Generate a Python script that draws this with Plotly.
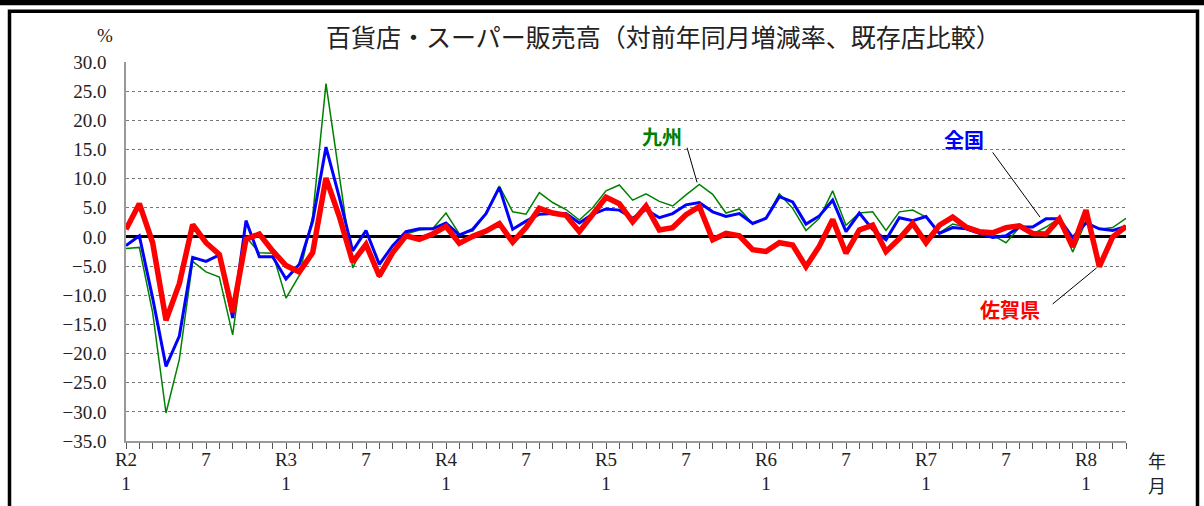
import plotly.graph_objects as go

# months from R2.1 (Jan 2020) to R8.4
months = list(range(76))
tick_pos = [0, 6, 12, 18, 24, 30, 36, 42, 48, 54, 60, 66, 72]
tick_text = ["R2<br>1", "7", "R3<br>1", "7", "R4<br>1", "7", "R5<br>1", "7",
             "R6<br>1", "7", "R7<br>1", "7", "R8<br>1"]

saga = [1.3, 5.7, -1.0, -14.3, -8.0, 2.1, -1.0, -3.0, -12.9, -0.4, 0.5, -2.4,
        -4.9, -6.0, -2.7, 10.1, 3.5, -4.3, -1.3, -6.7, -2.7, 0.2, -0.4, 0.5,
        1.8, -1.1, 0.1, 1.0, 2.3, -0.9, 1.6, 4.9, 4.1, 3.7, 0.9, 4.0,
        6.8, 5.7, 2.6, 5.3, 1.2, 1.6, 3.8, 5.2, -0.5, 0.6, 0.2, -2.2,
        -2.5, -1.0, -1.4, -5.1, -1.6, 3.0, -2.8, 1.2, 2.0, -2.5, -0.3, 2.3,
        -1.0, 2.0, 3.4, 1.7, 0.9, 0.7, 1.6, 1.9, 0.6, 0.5, 3.1, -1.7,
        4.6, -5.1, 0.0, 1.8]

zenkoku = [-1.5, 0.2, -10.5, -22.2, -17.0, -3.5, -4.2, -3.1, -13.9, 2.8, -3.4, -3.4,
           -7.2, -4.7, 2.7, 15.4, 6.8, -2.4, 1.1, -4.7, -1.5, 0.9, 1.4, 1.4,
           2.4, 0.3, 1.3, 4.0, 8.5, 1.3, 2.7, 3.9, 4.0, 4.0, 2.4, 3.9,
           4.8, 4.6, 3.2, 4.7, 3.3, 4.0, 5.5, 5.9, 4.3, 3.5, 4.0, 2.3,
           3.2, 6.9, 6.0, 2.2, 3.6, 6.3, 0.9, 4.1, 1.3, -0.5, 3.3, 2.8,
           3.5, 0.6, 1.6, 1.4, 0.6, -0.1, 0.2, 1.7, 1.7, 3.1, 3.1, -0.1,
           2.4, 1.4, 1.1, 1.8]

kyushu = [-2.0, -1.8, -13.0, -30.2, -21.0, -4.2, -6.0, -6.9, -16.8, 0.0, -2.7, -2.8,
          -10.5, -6.6, 3.6, 26.3, 10.5, -5.3, -0.7, -7.0, -2.4, 0.5, 1.2, 1.4,
          4.1, 0.5, 1.0, 4.0, 8.7, 4.3, 3.9, 7.6, 5.9, 4.7, 2.9, 5.0,
          7.9, 8.9, 6.3, 7.4, 6.1, 5.3, 7.2, 9.0, 7.3, 4.1, 4.8, 2.3,
          3.2, 7.4, 4.9, 1.1, 3.2, 7.9, 2.0, 4.1, 4.3, 1.1, 4.3, 4.6,
          3.4, 0.7, 2.2, 1.7, 0.9, 0.3, -1.0, 1.6, 0.5, 1.7, 3.2, -2.6,
          2.7, 1.3, 1.6, 3.2]

y_ticks = [30, 25, 20, 15, 10, 5, 0, -5, -10, -15, -20, -25, -30, -35]

SERIF = "Liberation Serif, DejaVu Serif, serif"
CJK = "Noto Sans CJK JP, Noto Sans, sans-serif"

fig = go.Figure()
fig.add_trace(go.Scatter(x=months, y=kyushu, mode="lines", name="九州",
                         line=dict(color="#008000", width=1.5)))
fig.add_trace(go.Scatter(x=months, y=zenkoku, mode="lines", name="全国",
                         line=dict(color="#0000FF", width=3)))
fig.add_trace(go.Scatter(x=months, y=saga, mode="lines", name="佐賀県",
                         line=dict(color="#FF0000", width=5.5)))

shapes = [
    # top black bar
    dict(type="rect", xref="paper", yref="paper", x0=-0.13, x1=1.08,
         y0=1.1496, y1=1.17, fillcolor="black", line=dict(width=0), layer="above"),
    # outer frame
    dict(type="rect", xref="paper", yref="paper", x0=-0.1165, x1=1.0715,
         y0=-0.2, y1=1.1339, line=dict(color="black", width=3.5), layer="above"),
    # leader lines
    dict(type="line", xref="x", yref="y", x0=42.08, y0=15.3, x1=42.83, y1=9.35,
         line=dict(color="black", width=1)),
    dict(type="line", xref="x", yref="y", x0=65.0, y0=14.5, x1=68.55, y1=3.4,
         line=dict(color="black", width=1)),
    dict(type="line", xref="x", yref="y", x0=69.5, y0=-11.5, x1=72.8, y1=-5.3,
         line=dict(color="black", width=1)),
]

annotations = [
    dict(text="百貨店・スーパー販売高（対前年同月増減率、既存店比較）", xref="paper", yref="paper",
         x=0.537, y=1.069, showarrow=False, font=dict(family=CJK, size=25, color="#222"),
         xanchor="center", yanchor="middle"),
    dict(text="%", xref="paper", yref="paper", x=-0.021, y=1.069, showarrow=False,
         font=dict(family=SERIF, size=19, color="#222"), xanchor="center", yanchor="middle"),
    dict(text="年", xref="paper", yref="paper", x=1.031, y=-0.05, showarrow=False,
         font=dict(family=CJK, size=18, color="#222"), xanchor="center", yanchor="middle"),
    dict(text="月", xref="paper", yref="paper", x=1.031, y=-0.115, showarrow=False,
         font=dict(family=CJK, size=18, color="#222"), xanchor="center", yanchor="middle"),
    dict(text="<b>九州</b>", xref="x", yref="y", x=40.2, y=17.3, showarrow=False,
         font=dict(family=CJK, size=20, color="#008000")),
    dict(text="<b>全国</b>", xref="x", yref="y", x=62.85, y=16.7, showarrow=False,
         font=dict(family=CJK, size=20, color="#0000FF")),
    dict(text="<b>佐賀県</b>", xref="x", yref="y", x=66.3, y=-12.5, showarrow=False,
         font=dict(family=CJK, size=20, color="#FF0000")),
]

fig.update_layout(
    width=1204, height=506,
    margin=dict(l=126, r=78, t=62, b=63),
    paper_bgcolor="white", plot_bgcolor="white",
    showlegend=False,
    shapes=shapes,
    annotations=annotations,
    xaxis=dict(range=[0, 75], tickmode="array", tickvals=tick_pos, ticktext=tick_text,
               showgrid=False, zeroline=False, showline=True, linecolor="#999",
               linewidth=1.5, ticks="", tickfont=dict(family=SERIF, size=19, color="#222"),
               minor=dict(ticks="outside", dtick=1, ticklen=6, tickcolor="#555", tickwidth=1)),
    yaxis=dict(range=[-35, 30], tickmode="array", tickvals=y_ticks, tickformat=".1f",
               showgrid=True, gridcolor="#777", griddash="dot", gridwidth=1,
               zeroline=True, zerolinecolor="black", zerolinewidth=3,
               showline=True, linecolor="#999", linewidth=1.5, ticks="",
               ticklabelstandoff=14,
               tickfont=dict(family=SERIF, size=19, color="#222")),
)

fig.write_html("out.html", config={"displayModeBar": False},
               post_script="document.body.style.margin='0px';document.body.style.overflow='hidden';")
